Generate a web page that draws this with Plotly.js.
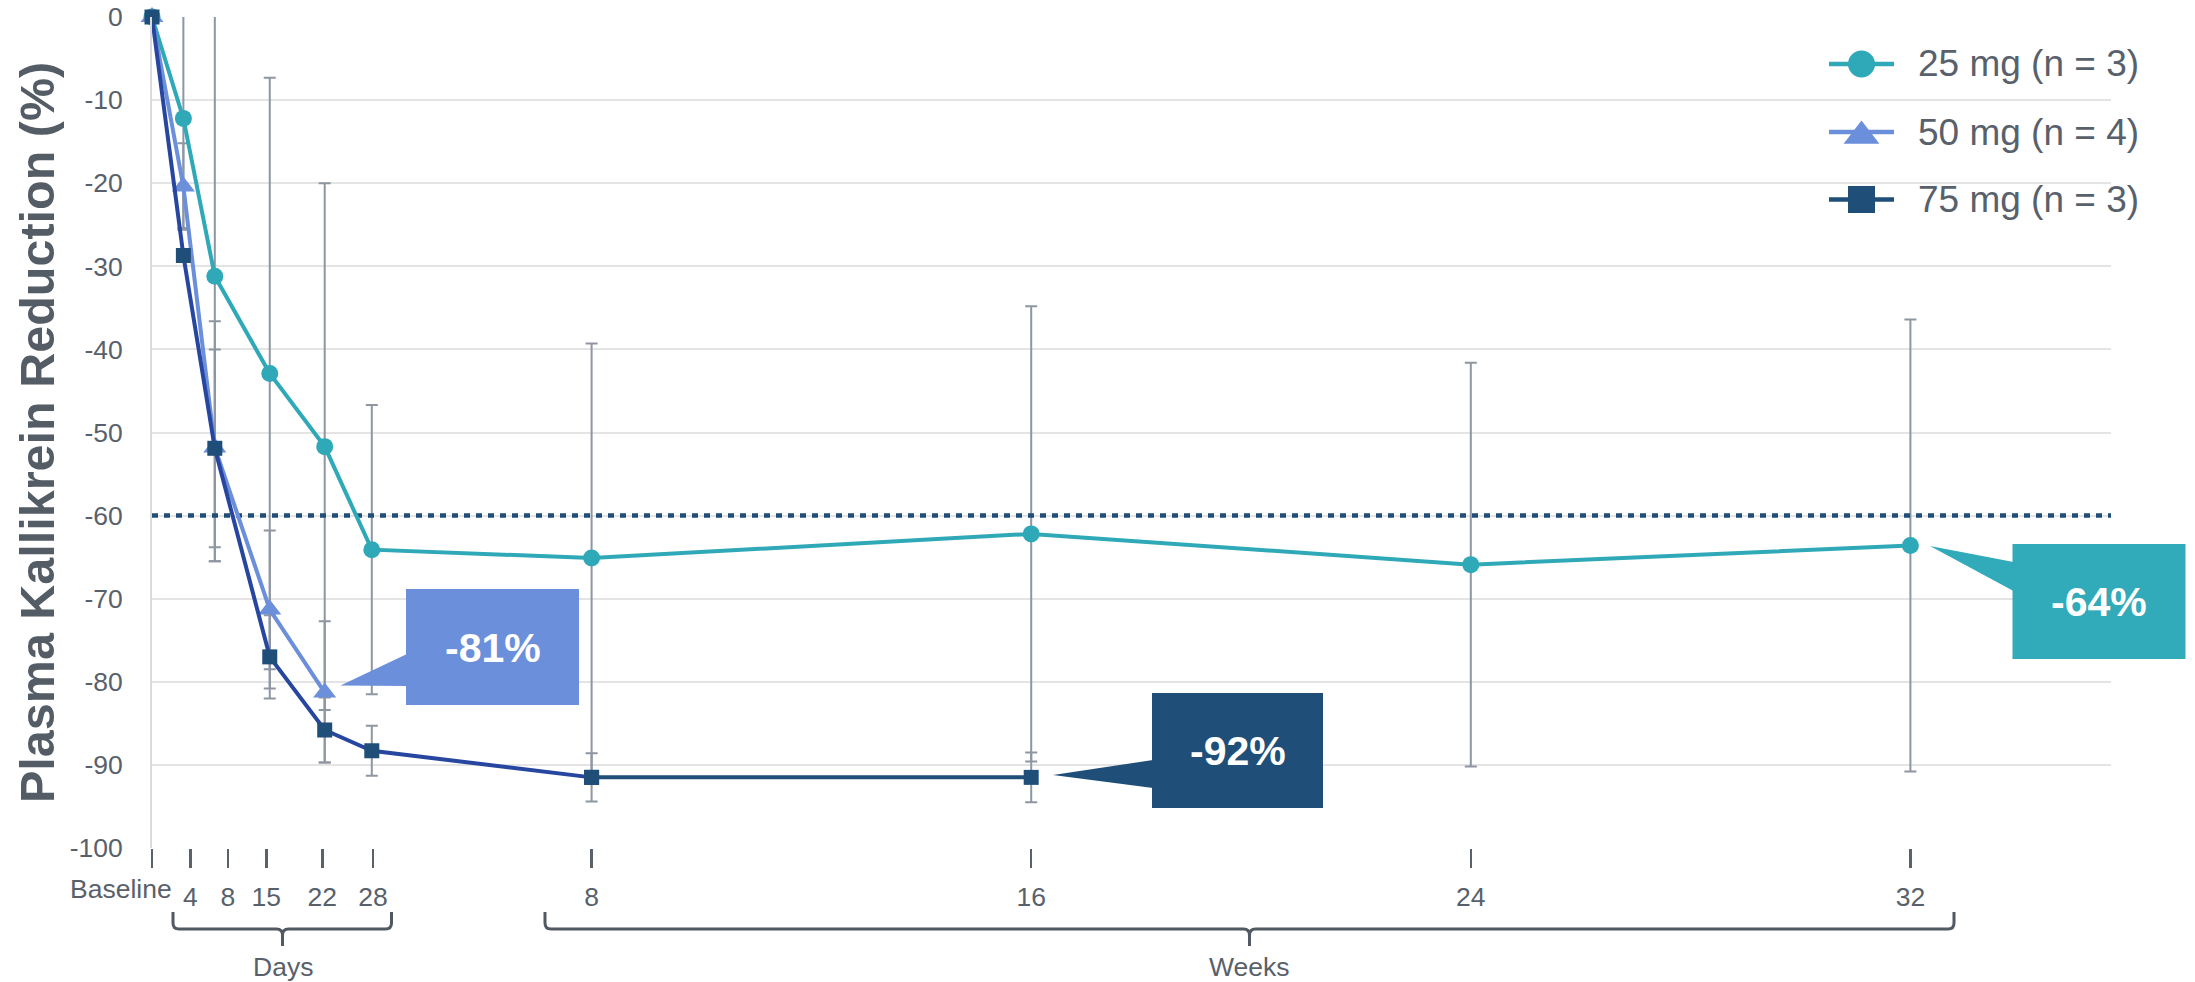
<!DOCTYPE html>
<html>
<head>
<meta charset="utf-8">
<script src="https://cdn.plot.ly/plotly-3.0.1.min.js"></script>
<style>
html,body{margin:0;padding:0;background:#ffffff;}
#chart{width:2195px;height:982px;}
</style>
</head>
<body>
<div id="chart"></div>
<script>
// ---------- DATA ----------
const visits = ['Baseline', 'Day 4', 'Day 8', 'Day 15', 'Day 22', 'Day 28', 'Week 8', 'Week 16', 'Week 24', 'Week 32'];
// time of each visit, in weeks
const visitWeeks = [0, 0.571, 1.143, 2.143, 3.143, 4, 8, 16, 24, 32];

const seriesNames = ['25 mg (n = 3)', '50 mg (n = 4)', '75 mg (n = 3)'];

const mean25 = [0, -12.2, -31.2, -42.9, -51.7, -64.1, -65.1, -62.2, -65.9, -63.6];
const err25  = [null, 13.2, 34.3, 35.6, 31.7, 17.4, 25.8, 27.4, 24.3, 27.2];

const mean50     = [0, -20.4, -51.8, -71.3, -81.3];
const err50Plus  = [null, 5.2, 15.2, 9.5, 8.6];
const err50Minus = [null, 5.2, 13.7, 9.5, 8.4];

const mean75 = [0, -28.7, -51.9, -77.0, -85.8, -88.3, -91.5, -91.5];
const err75  = [null, 0.6, 11.9, 5.0, 3.9, 3.0, 2.9, 3.0];

const thresholdValue = -60;

// axis ticks
const xTickPos  = [0, 0.70, 1.38, 2.08, 3.10, 4.02, 8, 16, 24, 32];
const xTickText = ['', '4', '8', '15', '22', '28', '8', '16', '24', '32'];
const baselineLabel = 'Baseline';
const groupLabels = ['Days', 'Weeks'];
const yTickVals = [0, -10, -20, -30, -40, -50, -60, -70, -80, -90, -100];
const yTickText = ['0', '-10', '-20', '-30', '-40', '-50', '-60', '-70', '-80', '-90', '-100'];
const yTitle = 'Plasma Kallikrein Reduction (%)';
const callouts = ['-64%', '-81%', '-92%'];

// ---------- STYLE / LAYOUT ----------
const TEAL = '#2fa9b8', LIGHT = '#6b8fda', NAVY = '#1f4e79', ROYAL = '#2746a0';
const ERR = '#8d96a1', TXT = '#58616b';
const FONT = 'Liberation Sans, Arial, sans-serif';

const W = 2195, H = 982, L = 152, T = 17, R = 2111, B = 848;
const pxPerWeek = 54.95;
const xMax = (R - L) / pxPerWeek;
const px = x => (x - L) / (R - L);
const py = y => (B - y) / (B - T);

function errTrace(x, y, errObj) {
  return {
    x: x, y: y, type: 'scatter', mode: 'markers',
    marker: {opacity: 0, size: 2}, hoverinfo: 'skip', showlegend: false,
    cliponaxis: true,
    error_y: Object.assign({type: 'data', visible: true, color: ERR, thickness: 2, width: 6}, errObj)
  };
}

const traces = [
  errTrace(visitWeeks, mean25, {array: err25, symmetric: true}),
  errTrace(visitWeeks.slice(0, mean50.length), mean50, {array: err50Plus, arrayminus: err50Minus, symmetric: false}),
  errTrace(visitWeeks.slice(0, mean75.length), mean75, {array: err75, symmetric: true}),
  {
    x: [0, xMax], y: [thresholdValue, thresholdValue], type: 'scatter', mode: 'lines',
    line: {color: NAVY, width: 4.5, dash: '6px,6px'}, hoverinfo: 'skip', showlegend: false
  },
  {
    x: visitWeeks, y: mean25, name: seriesNames[0], type: 'scatter', mode: 'lines+markers',
    line: {color: TEAL, width: 4}, marker: {symbol: 'circle', size: 17, color: TEAL},
    cliponaxis: false
  },
  {
    x: visitWeeks.slice(0, mean50.length), y: mean50, name: seriesNames[1], type: 'scatter', mode: 'lines+markers',
    line: {color: LIGHT, width: 4}, marker: {symbol: 'triangle-up', size: 20, color: LIGHT},
    cliponaxis: false
  },
  {
    x: visitWeeks.slice(0, 7), y: mean75.slice(0, 7), name: seriesNames[2], type: 'scatter', mode: 'lines+markers',
    line: {color: ROYAL, width: 4}, marker: {symbol: 'square', size: 15, color: NAVY},
    cliponaxis: false
  },
  {
    x: visitWeeks.slice(6, 8), y: mean75.slice(6, 8), name: seriesNames[2], type: 'scatter', mode: 'lines+markers',
    line: {color: NAVY, width: 4}, marker: {symbol: 'square', size: 15, color: NAVY},
    cliponaxis: false
  }
];

// custom legend (pixel-space overlay axes)
const legRows = [64, 132, 199.5];
const legX0 = 1829, legX1 = 1894, legXm = 1861.5, legText = 1916;
const legSymbols = [
  {symbol: 'circle', size: 27, color: TEAL, dy: 0},
  {symbol: 'triangle-up', size: 31, color: LIGHT, dy: 4},
  {symbol: 'square', size: 27, color: NAVY, dy: 0}
];
const legLineColors = [TEAL, LIGHT, NAVY];
legSymbols.forEach((s, i) => {
  traces.push({
    x: [legXm], y: [legRows[i] + s.dy], xaxis: 'x2', yaxis: 'y2', type: 'scatter', mode: 'markers',
    marker: {symbol: s.symbol, size: s.size, color: s.color}, hoverinfo: 'skip', showlegend: false,
    cliponaxis: false
  });
});

function brace(x1, x2, xc) {
  const yTop = 912, yMid = 929, yTip = 946, r = 6;
  const P = (x, y) => px(x).toFixed(5) + ',' + py(y).toFixed(5);
  return 'M ' + P(x1, yTop) + ' L ' + P(x1, yMid - r) + ' Q ' + P(x1, yMid) + ' ' + P(x1 + r, yMid) +
    ' L ' + P(xc - r, yMid) + ' Q ' + P(xc, yMid) + ' ' + P(xc, yMid + r) + ' L ' + P(xc, yTip) +
    ' M ' + P(xc, yMid + r) + ' Q ' + P(xc, yMid) + ' ' + P(xc + r, yMid) +
    ' L ' + P(x2 - r, yMid) + ' Q ' + P(x2, yMid) + ' ' + P(x2, yMid - r) + ' L ' + P(x2, yTop);
}
function tri(a, b, c) {
  const P = p => px(p[0]).toFixed(5) + ',' + py(p[1]).toFixed(5);
  return 'M ' + P(a) + ' L ' + P(b) + ' L ' + P(c) + ' Z';
}
function box(x0, x1, y0, y1, color) {
  return {type: 'rect', xref: 'paper', yref: 'paper', x0: px(x0), x1: px(x1), y0: py(y1), y1: py(y0),
    fillcolor: color, line: {width: 0}, layer: 'above'};
}

const shapes = [
  // legend background
  {type: 'rect', xref: 'paper', yref: 'paper', x0: px(1800), x1: px(2111), y0: py(240), y1: py(19),
   fillcolor: '#ffffff', line: {width: 0}, layer: 'between'},
  // braces
  {type: 'path', xref: 'paper', yref: 'paper', path: brace(173, 391.5, 282.5), line: {color: '#515963', width: 3}},
  {type: 'path', xref: 'paper', yref: 'paper', path: brace(545, 1954, 1249.5), line: {color: '#515963', width: 3}},
  // callouts
  box(2012.5, 2185.5, 544, 659, '#31aab9'),
  {type: 'path', xref: 'paper', yref: 'paper', path: tri([1930, 546], [2013.5, 562], [2013.5, 591]), fillcolor: '#31aab9', line: {width: 0}, layer: 'above'},
  box(406, 579, 589, 705, '#6b8fda'),
  {type: 'path', xref: 'paper', yref: 'paper', path: tri([340.5, 685.5], [407, 654], [407, 686]), fillcolor: '#6b8fda', line: {width: 0}, layer: 'above'},
  box(1152, 1323, 693, 808, '#1f4e79'),
  {type: 'path', xref: 'paper', yref: 'paper', path: tri([1053, 775], [1153, 760], [1153, 788]), fillcolor: '#1f4e79', line: {width: 0}, layer: 'above'}
];
legRows.forEach((y, i) => {
  shapes.push({type: 'line', xref: 'paper', yref: 'paper', x0: px(legX0), x1: px(legX1), y0: py(y), y1: py(y),
    line: {color: legLineColors[i], width: 4.5}, layer: 'above'});
});

const annotations = [
  {text: '<b>' + yTitle + '</b>', textangle: -90, xref: 'paper', yref: 'paper', x: px(36.5), y: py(432.5),
   xanchor: 'center', yanchor: 'middle', showarrow: false, font: {family: FONT, size: 48.5, color: '#545c66'}},
  {text: baselineLabel, xref: 'paper', yref: 'paper', x: px(174), y: py(888.5), xanchor: 'right', yanchor: 'middle',
   showarrow: false, font: {family: FONT, size: 26.5, color: TXT}},
  {text: groupLabels[0], xref: 'paper', yref: 'paper', x: px(282.5), y: py(967), xanchor: 'center', yanchor: 'middle',
   showarrow: false, font: {family: FONT, size: 26.5, color: TXT}},
  {text: groupLabels[1], xref: 'paper', yref: 'paper', x: px(1249.5), y: py(967), xanchor: 'center', yanchor: 'middle',
   showarrow: false, font: {family: FONT, size: 26.5, color: TXT}},
  {text: '<b>' + callouts[0] + '</b>', xref: 'paper', yref: 'paper', x: px(2099), y: py(602), xanchor: 'center', yanchor: 'middle',
   showarrow: false, font: {family: FONT, size: 41, color: '#ffffff'}},
  {text: '<b>' + callouts[1] + '</b>', xref: 'paper', yref: 'paper', x: px(492.5), y: py(648), xanchor: 'center', yanchor: 'middle',
   showarrow: false, font: {family: FONT, size: 41, color: '#ffffff'}},
  {text: '<b>' + callouts[2] + '</b>', xref: 'paper', yref: 'paper', x: px(1237.5), y: py(751), xanchor: 'center', yanchor: 'middle',
   showarrow: false, font: {family: FONT, size: 41, color: '#ffffff'}}
];
seriesNames.forEach((n, i) => {
  annotations.push({text: n, xref: 'paper', yref: 'paper', x: px(legText), y: py(legRows[i]), xanchor: 'left', yanchor: 'middle',
    showarrow: false, font: {family: FONT, size: 37, color: TXT}});
});

const layout = {
  width: W, height: H,
  paper_bgcolor: '#ffffff', plot_bgcolor: '#ffffff',
  margin: {l: L, r: W - R, t: T, b: H - B, pad: 0},
  showlegend: false,
  font: {family: FONT, color: TXT},
  xaxis: {
    range: [0, xMax], autorange: false, fixedrange: true,
    tickmode: 'array', tickvals: xTickPos, ticktext: xTickText,
    ticks: 'outside', ticklen: 19, tickwidth: 2.5, tickcolor: '#5b6168',
    tickfont: {family: FONT, size: 26.5, color: TXT}, ticklabelstandoff: 6,
    showgrid: false, zeroline: false, showline: false, automargin: false
  },
  yaxis: {
    range: [-100, 0], autorange: false, fixedrange: true,
    tickmode: 'array', tickvals: yTickVals, ticktext: yTickText,
    ticks: '', tickfont: {family: FONT, size: 26.5, color: TXT}, ticklabelstandoff: 22,
    showgrid: true, gridcolor: '#e4e4e4', gridwidth: 2,
    zeroline: false, showline: true, linecolor: '#d9dadc', linewidth: 2, automargin: false
  },
  xaxis2: {overlaying: 'x', anchor: 'y2', range: [L, R], autorange: false, visible: false, fixedrange: true},
  yaxis2: {overlaying: 'y', anchor: 'x2', range: [B, T], autorange: false, visible: false, fixedrange: true},
  shapes: shapes,
  annotations: annotations
};

Plotly.newPlot('chart', traces, layout, {displayModeBar: false, staticPlot: true});
</script>
</body>
</html>
